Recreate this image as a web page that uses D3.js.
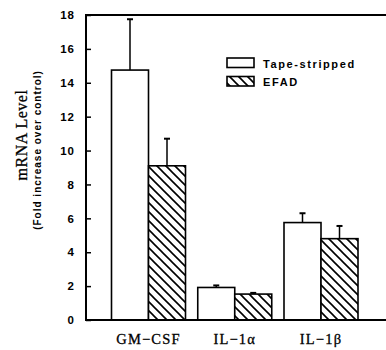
<!DOCTYPE html>
<html>
<head>
<meta charset="utf-8">
<script src="https://cdn.jsdelivr.net/npm/d3@7"></script>
<style>
  html, body { margin: 0; padding: 0; background: #fff; }
  svg { display: block; }
</style>
</head>
<body>
<svg id="chart" width="386" height="350"></svg>
<script>
// ---- data ----
const categories = ["GM\u2212CSF", "IL\u22121\u03B1", "IL\u22121\u03B2"];
const seriesNames = ["Tape-stripped", "EFAD"];
const tapeStripped = [14.75, 1.92, 5.75];
const tapeStrippedErr = [3.0, 0.12, 0.55];
const efad = [9.1, 1.53, 4.8];
const efadErr = [1.6, 0.07, 0.75];
const yTicks = [0, 2, 4, 6, 8, 10, 12, 14, 16, 18];

// ---- layout ----
const svg = d3.select("#chart");
const mLeft = 86, mRight = 386, mTop = 15, mBottom = 320;
const barW = 37;

const y = d3.scaleLinear().domain([0, 18]).range([mBottom, mTop]);
const x = d3.scalePoint().domain(categories).range([148.5, 321]);

const defs = svg.append("defs");
const pat = defs.append("pattern")
  .attr("id", "hatch").attr("patternUnits", "userSpaceOnUse")
  .attr("width", 9).attr("height", 9);
pat.append("rect").attr("width", 9).attr("height", 9).attr("fill", "#fff");
pat.append("path")
  .attr("d", "M-1,-1 L10,10 M-1,8 L1,10 M8,-1 L10,1")
  .attr("stroke", "#000").attr("stroke-width", 1.6);

const seriesData = [
  { name: seriesNames[0], values: tapeStripped, errs: tapeStrippedErr, fill: "#fff", off: -barW },
  { name: seriesNames[1], values: efad, errs: efadErr, fill: "url(#hatch)", off: 0 }
];

// bars
seriesData.forEach(s => {
  const g = svg.append("g");
  categories.forEach((c, i) => {
    const x0 = x(c) + s.off;
    const v = s.values[i];
    const xc = x0 + barW / 2;
    g.append("line").attr("x1", xc).attr("x2", xc)
      .attr("y1", y(v)).attr("y2", y(v + s.errs[i]))
      .attr("stroke", "#000").attr("stroke-width", 1.5);
    g.append("line").attr("x1", xc - 3).attr("x2", xc + 3)
      .attr("y1", y(v + s.errs[i])).attr("y2", y(v + s.errs[i]))
      .attr("stroke", "#000").attr("stroke-width", 2);
    g.append("rect").attr("x", x0).attr("y", y(v))
      .attr("width", barW).attr("height", y(0) - y(v))
      .attr("fill", s.fill).attr("stroke", "#000").attr("stroke-width", 1.6);
  });
});

// frame / axes
const axisG = svg.append("g").attr("transform", `translate(${mLeft},0)`);
axisG.call(d3.axisLeft(y).tickValues(yTicks).tickSize(-5).tickPadding(11).tickFormat(d3.format("d")));
axisG.select(".domain").remove();
axisG.selectAll(".tick line").attr("stroke", "#000").attr("stroke-width", 1.5);
axisG.selectAll(".tick text")
  .attr("font-family", "Liberation Sans, Arial, sans-serif")
  .attr("font-size", 11.5).attr("font-weight", "bold")
  .attr("letter-spacing", 1).attr("fill", "#000");

svg.append("path")
  .attr("d", `M${mRight},${mTop} L${mLeft},${mTop} L${mLeft},${mBottom} L${mRight},${mBottom}`)
  .attr("fill", "none").attr("stroke", "#000").attr("stroke-width", 2);

// x labels
svg.append("g").selectAll("text").data(categories).join("text")
  .attr("x", d => x(d)).attr("y", 344)
  .attr("text-anchor", "middle")
  .attr("font-family", "Liberation Serif, Times New Roman, serif")
  .attr("font-size", 14.5).attr("letter-spacing", 1.2)
  .attr("stroke", "#000").attr("stroke-width", 0.3)
  .attr("fill", "#000")
  .text(d => d);

// y titles
svg.append("text")
  .attr("transform", "translate(27,135) rotate(-90)")
  .attr("text-anchor", "middle")
  .attr("font-family", "Liberation Serif, Times New Roman, serif")
  .attr("font-size", 16).attr("letter-spacing", 0.5)
  .attr("stroke", "#000").attr("stroke-width", 0.3)
  .attr("fill", "#000")
  .text("mRNA Level");
svg.append("text")
  .attr("transform", "translate(41,150) rotate(-90)")
  .attr("text-anchor", "middle")
  .attr("font-family", "Liberation Sans, Arial, sans-serif")
  .attr("font-size", 10).attr("font-weight", "bold").attr("letter-spacing", 1)
  .attr("fill", "#000")
  .text("(Fold increase over control)");

// legend
const legend = svg.append("g");
seriesData.forEach((s, i) => {
  const ly = 58 + i * 18.5;
  legend.append("rect").attr("x", 227).attr("y", ly)
    .attr("width", 27).attr("height", 9.5)
    .attr("fill", s.fill).attr("stroke", "#000").attr("stroke-width", 1.6);
  legend.append("text").attr("x", 263).attr("y", ly + 9.5)
    .attr("font-family", "Liberation Sans, Arial, sans-serif")
    .attr("font-size", 11).attr("font-weight", "bold").attr("letter-spacing", 1.6)
    .attr("fill", "#000")
    .text(s.name);
});
</script>
</body>
</html>
